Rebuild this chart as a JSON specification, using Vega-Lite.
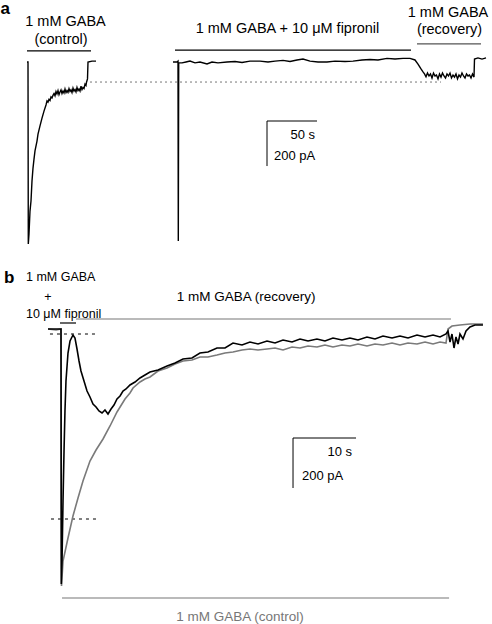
{
  "$schema": "https://vega.github.io/schema/vega-lite/v6.json",
  "padding": 0,
  "spacing": 0,
  "config": {"view": {"stroke": null}, "text": {"font": "Liberation Sans"}},
  "resolve": {"scale": {"x": "independent", "y": "independent"}},
  "datasets": {
    "controlA": [
      {"t": -1, "pA": 0}, {"t": 0, "pA": 0}, {"t": 0.3, "pA": -808}, {"t": 1, "pA": -764}, {"t": 2, "pA": -662},
      {"t": 3, "pA": -617}, {"t": 4, "pA": -528}, {"t": 5, "pA": -471}, {"t": 6, "pA": -431}, {"t": 7, "pA": -395},
      {"t": 9, "pA": -351}, {"t": 10, "pA": -320}, {"t": 12, "pA": -284}, {"t": 14, "pA": -249}, {"t": 16, "pA": -218},
      {"t": 18, "pA": -191}, {"t": 19, "pA": -173}, {"t": 20, "pA": -178}, {"t": 21, "pA": -166}, {"t": 22, "pA": -171},
      {"t": 23, "pA": -155}, {"t": 24, "pA": -160}, {"t": 25, "pA": -148}, {"t": 26, "pA": -140}, {"t": 27, "pA": -150},
      {"t": 28, "pA": -131}, {"t": 29, "pA": -142}, {"t": 30, "pA": -127}, {"t": 31, "pA": -145}, {"t": 32, "pA": -133},
      {"t": 33, "pA": -124}, {"t": 34, "pA": -140}, {"t": 35, "pA": -129}, {"t": 36, "pA": -138}, {"t": 37, "pA": -120},
      {"t": 38, "pA": -136}, {"t": 39, "pA": -127}, {"t": 40, "pA": -135}, {"t": 41, "pA": -118}, {"t": 42, "pA": -131},
      {"t": 43, "pA": -124}, {"t": 44, "pA": -136}, {"t": 45, "pA": -116}, {"t": 46, "pA": -129}, {"t": 47, "pA": -122},
      {"t": 48, "pA": -133}, {"t": 49, "pA": -113}, {"t": 50, "pA": -127}, {"t": 51, "pA": -120}, {"t": 52, "pA": -129},
      {"t": 53, "pA": -107}, {"t": 54, "pA": -122}, {"t": 55, "pA": -113}, {"t": 56, "pA": -118}, {"t": 57, "pA": -98},
      {"t": 58, "pA": -104}, {"t": 58.5, "pA": -90}, {"t": 59.5, "pA": -75}, {"t": 60, "pA": 0}, {"t": 64, "pA": 4}, {"t": 68, "pA": 4}
    ],
    "fipronilA": [
      {"t": 145, "pA": 0}, {"t": 149, "pA": 0}, {"t": 150, "pA": 4}, {"t": 150.3, "pA": -795}, {"t": 150.7, "pA": -4},
      {"t": 154, "pA": -4}, {"t": 158, "pA": 0}, {"t": 162, "pA": 4}, {"t": 167, "pA": -4}, {"t": 172, "pA": 0},
      {"t": 179, "pA": -9}, {"t": 184, "pA": 0}, {"t": 190, "pA": -4}, {"t": 199, "pA": 0}, {"t": 207, "pA": 2},
      {"t": 214, "pA": -2}, {"t": 222, "pA": 4}, {"t": 232, "pA": 4}, {"t": 240, "pA": 0}, {"t": 247, "pA": 4},
      {"t": 255, "pA": 7}, {"t": 262, "pA": 2}, {"t": 269, "pA": 9}, {"t": 275, "pA": 13}, {"t": 282, "pA": 4},
      {"t": 290, "pA": 0}, {"t": 299, "pA": 0}, {"t": 307, "pA": 4}, {"t": 317, "pA": 2}, {"t": 325, "pA": 4},
      {"t": 334, "pA": 9}, {"t": 342, "pA": 11}, {"t": 350, "pA": 9}, {"t": 359, "pA": 16}, {"t": 367, "pA": 13},
      {"t": 375, "pA": 16}, {"t": 382, "pA": 16}, {"t": 387, "pA": 9}, {"t": 390, "pA": -9}, {"t": 393, "pA": -31},
      {"t": 395, "pA": -44}, {"t": 396.5, "pA": -53}, {"t": 398, "pA": -66}, {"t": 399.5, "pA": -49}, {"t": 401, "pA": -62},
      {"t": 402.5, "pA": -53}, {"t": 404, "pA": -71}, {"t": 405.5, "pA": -49}, {"t": 407, "pA": -62}, {"t": 408.5, "pA": -58},
      {"t": 410, "pA": -75}, {"t": 411.5, "pA": -53}, {"t": 413, "pA": -67}, {"t": 414.5, "pA": -49}, {"t": 416, "pA": -62},
      {"t": 417.5, "pA": -71}, {"t": 419, "pA": -53}, {"t": 420.5, "pA": -62}, {"t": 422, "pA": -49}, {"t": 423.5, "pA": -71},
      {"t": 425, "pA": -58}, {"t": 426.5, "pA": -67}, {"t": 428, "pA": -53}, {"t": 429.5, "pA": -75}, {"t": 431, "pA": -58},
      {"t": 432.5, "pA": -67}, {"t": 434, "pA": -49}, {"t": 435.5, "pA": -62}, {"t": 437, "pA": -71}, {"t": 438.5, "pA": -53},
      {"t": 440, "pA": -62}, {"t": 441.5, "pA": -58}, {"t": 443, "pA": -71}, {"t": 444.5, "pA": -53}, {"t": 446, "pA": -67},
      {"t": 446.5, "pA": 13}, {"t": 450, "pA": 18}, {"t": 454, "pA": 13}, {"t": 458, "pA": 18}
    ],
    "barsA": [
      {"label": "control", "t": -1, "t2": 63, "pA": 49},
      {"label": "fipronil", "t": 147, "t2": 383, "pA": 53},
      {"label": "recovery", "t": 389, "t2": 453, "pA": 80}
    ],
    "textA": [
      {"text": "1 mM GABA", "t": 37.5, "pA": 178},
      {"text": "(control)", "t": 33, "pA": 98},
      {"text": "1 mM GABA + 10 μM fipronil", "t": 259.5, "pA": 146},
      {"text": "1 mM GABA", "t": 420, "pA": 218},
      {"text": "(recovery)", "t": 421.5, "pA": 142}
    ],
    "grayB": [
      {"t": -2.06, "pA": -4}, {"t": -0.79, "pA": -8}, {"t": 0, "pA": -4}, {"t": 0.08, "pA": -1032}, {"t": 0.32, "pA": -932},
      {"t": 1.11, "pA": -840}, {"t": 1.9, "pA": -752}, {"t": 2.7, "pA": -680}, {"t": 3.49, "pA": -612}, {"t": 4.6, "pA": -532},
      {"t": 5.56, "pA": -488}, {"t": 6.67, "pA": -444}, {"t": 7.78, "pA": -392}, {"t": 8.89, "pA": -336}, {"t": 10.16, "pA": -284},
      {"t": 10.95, "pA": -260}, {"t": 11.43, "pA": -240}, {"t": 12.54, "pA": -216}, {"t": 13.33, "pA": -204}, {"t": 14.13, "pA": -196},
      {"t": 15.4, "pA": -172}, {"t": 16.83, "pA": -160}, {"t": 18.1, "pA": -144}, {"t": 19.37, "pA": -132}, {"t": 20.79, "pA": -128},
      {"t": 22.06, "pA": -116}, {"t": 23.33, "pA": -116}, {"t": 24.76, "pA": -108}, {"t": 26.03, "pA": -100}, {"t": 27.3, "pA": -96},
      {"t": 28.73, "pA": -88}, {"t": 30.0, "pA": -84}, {"t": 31.27, "pA": -88}, {"t": 32.7, "pA": -84}, {"t": 33.97, "pA": -80},
      {"t": 35.24, "pA": -88}, {"t": 36.67, "pA": -76}, {"t": 37.94, "pA": -80}, {"t": 39.21, "pA": -72}, {"t": 40.63, "pA": -76},
      {"t": 41.9, "pA": -68}, {"t": 43.17, "pA": -76}, {"t": 44.6, "pA": -68}, {"t": 45.87, "pA": -72}, {"t": 47.14, "pA": -64},
      {"t": 48.57, "pA": -72}, {"t": 49.84, "pA": -64}, {"t": 51.11, "pA": -68}, {"t": 52.54, "pA": -60}, {"t": 53.81, "pA": -68},
      {"t": 55.08, "pA": -60}, {"t": 56.51, "pA": -64}, {"t": 57.78, "pA": -56}, {"t": 59.05, "pA": -64}, {"t": 60.16, "pA": -56},
      {"t": 61.11, "pA": -60}, {"t": 61.43, "pA": -4}, {"t": 62.06, "pA": 8}, {"t": 63.33, "pA": 12}, {"t": 64.92, "pA": 16}, {"t": 66.98, "pA": 16}
    ],
    "blackB": [
      {"t": -2.06, "pA": -4}, {"t": 0, "pA": -4}, {"t": 0.05, "pA": -1024}, {"t": 0.16, "pA": -932}, {"t": 0.32, "pA": -692},
      {"t": 0.48, "pA": -492}, {"t": 0.63, "pA": -332}, {"t": 0.79, "pA": -212}, {"t": 1.11, "pA": -100}, {"t": 1.43, "pA": -52},
      {"t": 1.9, "pA": -28}, {"t": 2.22, "pA": -40}, {"t": 2.54, "pA": -84}, {"t": 2.86, "pA": -132}, {"t": 3.17, "pA": -172},
      {"t": 3.65, "pA": -212}, {"t": 4.13, "pA": -252}, {"t": 4.6, "pA": -276}, {"t": 5.08, "pA": -304}, {"t": 5.56, "pA": -316},
      {"t": 6.03, "pA": -332}, {"t": 6.51, "pA": -340}, {"t": 6.98, "pA": -328}, {"t": 7.46, "pA": -344}, {"t": 7.94, "pA": -324},
      {"t": 8.41, "pA": -308}, {"t": 8.89, "pA": -284}, {"t": 9.37, "pA": -272}, {"t": 9.84, "pA": -252}, {"t": 10.32, "pA": -244},
      {"t": 10.95, "pA": -228}, {"t": 11.75, "pA": -216}, {"t": 12.54, "pA": -200}, {"t": 13.33, "pA": -188}, {"t": 14.13, "pA": -176},
      {"t": 15.4, "pA": -168}, {"t": 16.83, "pA": -152}, {"t": 18.1, "pA": -140}, {"t": 19.37, "pA": -124}, {"t": 20.79, "pA": -120},
      {"t": 22.06, "pA": -100}, {"t": 23.33, "pA": -96}, {"t": 24.76, "pA": -80}, {"t": 26.03, "pA": -80}, {"t": 27.3, "pA": -60},
      {"t": 28.73, "pA": -68}, {"t": 30.0, "pA": -56}, {"t": 31.27, "pA": -64}, {"t": 32.7, "pA": -52}, {"t": 33.97, "pA": -60},
      {"t": 35.24, "pA": -48}, {"t": 36.67, "pA": -56}, {"t": 37.94, "pA": -44}, {"t": 39.21, "pA": -52}, {"t": 40.63, "pA": -44},
      {"t": 41.9, "pA": -52}, {"t": 43.17, "pA": -40}, {"t": 44.6, "pA": -48}, {"t": 45.87, "pA": -40}, {"t": 47.14, "pA": -48},
      {"t": 48.57, "pA": -36}, {"t": 49.84, "pA": -44}, {"t": 51.11, "pA": -32}, {"t": 52.54, "pA": -40}, {"t": 53.81, "pA": -32},
      {"t": 55.08, "pA": -40}, {"t": 56.51, "pA": -28}, {"t": 57.78, "pA": -36}, {"t": 59.05, "pA": -28}, {"t": 60.16, "pA": -36},
      {"t": 61.11, "pA": -24}, {"t": 61.43, "pA": -12}, {"t": 61.75, "pA": -56}, {"t": 62.06, "pA": -24}, {"t": 62.38, "pA": -80},
      {"t": 62.7, "pA": -36}, {"t": 63.02, "pA": -64}, {"t": 63.33, "pA": -24}, {"t": 63.81, "pA": -44}, {"t": 64.29, "pA": -12},
      {"t": 64.92, "pA": 4}, {"t": 65.71, "pA": 12}, {"t": 66.98, "pA": 12}
    ],
    "barsB": [
      {"label": "fipronil", "t": -0.16, "t2": 2.38, "pA": 20},
      {"label": "recovery", "t": 2.38, "t2": 61.9, "pA": 36},
      {"label": "control", "t": 0.16, "t2": 61.6, "pA": -1080}
    ],
    "dashB": [
      {"level": "fipronil peak", "t": -1.75, "t2": 5.56, "pA": -24},
      {"level": "control peak", "t": -1.59, "t2": 5.71, "pA": -764}
    ],
    "textBLeft": [
      {"text": "1 mM GABA", "t": -5.56, "pA": 204},
      {"text": "10 μM fipronil", "t": -5.56, "pA": 56}
    ]
  },
  "vconcat": [
    {
      "width": 492,
      "height": 250,
      "layer": [
        {
          "data": {"values": [{"t": 62, "t2": 413, "pA": -89}]},
          "mark": {"type": "rule", "color": "#777777", "strokeDash": [2, 3], "strokeWidth": 1},
          "encoding": {
            "x": {"field": "t", "type": "quantitative", "axis": null, "scale": {"domain": [-28, 464], "nice": false, "zero": false}},
            "x2": {"field": "t2"},
            "y": {"field": "pA", "type": "quantitative", "axis": null, "scale": {"domain": [-839.2, 270.8], "nice": false, "zero": false}}
          }
        },
        {
          "data": {"name": "controlA"},
          "mark": {"type": "line", "color": "#000000", "strokeWidth": 1.4},
          "encoding": {
            "x": {"field": "t", "type": "quantitative", "axis": null},
            "y": {"field": "pA", "type": "quantitative", "axis": null}
          }
        },
        {
          "data": {"name": "fipronilA"},
          "mark": {"type": "line", "color": "#000000", "strokeWidth": 1.4},
          "encoding": {
            "x": {"field": "t", "type": "quantitative", "axis": null},
            "y": {"field": "pA", "type": "quantitative", "axis": null}
          }
        },
        {
          "data": {"name": "barsA"},
          "mark": {"type": "rule", "strokeWidth": 1.2},
          "encoding": {
            "x": {"field": "t", "type": "quantitative", "axis": null},
            "x2": {"field": "t2"},
            "y": {"field": "pA", "type": "quantitative", "axis": null},
            "color": {"condition": {"test": "datum.label === 'recovery'", "value": "#555555"}, "value": "#000000"}
          }
        },
        {
          "data": {"values": [{"t": 239, "t2": 289, "pA": -262}]},
          "mark": {"type": "rule", "color": "#000000", "strokeWidth": 1},
          "encoding": {
            "x": {"field": "t", "type": "quantitative", "axis": null},
            "x2": {"field": "t2"},
            "y": {"field": "pA", "type": "quantitative", "axis": null}
          }
        },
        {
          "data": {"values": [{"t": 239, "pA": -262, "pA2": -462}]},
          "mark": {"type": "rule", "color": "#000000", "strokeWidth": 1},
          "encoding": {
            "x": {"field": "t", "type": "quantitative", "axis": null},
            "y": {"field": "pA", "type": "quantitative", "axis": null},
            "y2": {"field": "pA2"}
          }
        },
        {
          "data": {"name": "textA"},
          "mark": {"type": "text", "fontSize": 14.5, "align": "center", "baseline": "middle", "color": "#000000"},
          "encoding": {
            "x": {"field": "t", "type": "quantitative", "axis": null},
            "y": {"field": "pA", "type": "quantitative", "axis": null},
            "text": {"field": "text"}
          }
        },
        {
          "data": {"values": [{"text": "50 s", "t": 287, "pA": -324}]},
          "mark": {"type": "text", "fontSize": 13, "align": "right", "baseline": "middle", "color": "#000000"},
          "encoding": {
            "x": {"field": "t", "type": "quantitative", "axis": null},
            "y": {"field": "pA", "type": "quantitative", "axis": null},
            "text": {"field": "text"}
          }
        },
        {
          "data": {"values": [{"text": "200 pA", "t": 246, "pA": -417}]},
          "mark": {"type": "text", "fontSize": 13, "align": "left", "baseline": "middle", "color": "#000000"},
          "encoding": {
            "x": {"field": "t", "type": "quantitative", "axis": null},
            "y": {"field": "pA", "type": "quantitative", "axis": null},
            "text": {"field": "text"}
          }
        },
        {
          "data": {"values": [{"text": "a", "t": -27.5, "pA": 235}]},
          "mark": {"type": "text", "fontSize": 17, "fontWeight": "bold", "align": "left", "baseline": "middle", "color": "#000000"},
          "encoding": {
            "x": {"field": "t", "type": "quantitative", "axis": null},
            "y": {"field": "pA", "type": "quantitative", "axis": null},
            "text": {"field": "text"}
          }
        }
      ]
    },
    {
      "width": 492,
      "height": 374,
      "layer": [
        {
          "data": {"name": "dashB"},
          "mark": {"type": "rule", "color": "#000000", "strokeDash": [3, 4], "strokeWidth": 1},
          "encoding": {
            "x": {"field": "t", "type": "quantitative", "axis": null, "scale": {"domain": [-9.683, 68.413], "nice": false, "zero": false}},
            "x2": {"field": "t2"},
            "y": {"field": "pA", "type": "quantitative", "axis": null, "scale": {"domain": [-1188, 308], "nice": false, "zero": false}}
          }
        },
        {
          "data": {"name": "grayB"},
          "mark": {"type": "line", "color": "#7a7a7a", "strokeWidth": 1.6},
          "encoding": {
            "x": {"field": "t", "type": "quantitative", "axis": null},
            "y": {"field": "pA", "type": "quantitative", "axis": null}
          }
        },
        {
          "data": {"name": "blackB"},
          "mark": {"type": "line", "color": "#000000", "strokeWidth": 1.6},
          "encoding": {
            "x": {"field": "t", "type": "quantitative", "axis": null},
            "y": {"field": "pA", "type": "quantitative", "axis": null}
          }
        },
        {
          "data": {"name": "barsB"},
          "mark": {"type": "rule", "strokeWidth": 1.2},
          "encoding": {
            "x": {"field": "t", "type": "quantitative", "axis": null},
            "x2": {"field": "t2"},
            "y": {"field": "pA", "type": "quantitative", "axis": null},
            "color": {"condition": {"test": "datum.label === 'fipronil'", "value": "#000000"}, "value": "#777777"}
          }
        },
        {
          "data": {"values": [{"t": 36.83, "t2": 46.83, "pA": -440}]},
          "mark": {"type": "rule", "color": "#000000", "strokeWidth": 1},
          "encoding": {
            "x": {"field": "t", "type": "quantitative", "axis": null},
            "x2": {"field": "t2"},
            "y": {"field": "pA", "type": "quantitative", "axis": null}
          }
        },
        {
          "data": {"values": [{"t": 36.83, "pA": -440, "pA2": -640}]},
          "mark": {"type": "rule", "color": "#000000", "strokeWidth": 1},
          "encoding": {
            "x": {"field": "t", "type": "quantitative", "axis": null},
            "y": {"field": "pA", "type": "quantitative", "axis": null},
            "y2": {"field": "pA2"}
          }
        },
        {
          "data": {"name": "textBLeft"},
          "mark": {"type": "text", "fontSize": 12.5, "align": "left", "baseline": "middle", "color": "#000000"},
          "encoding": {
            "x": {"field": "t", "type": "quantitative", "axis": null},
            "y": {"field": "pA", "type": "quantitative", "axis": null},
            "text": {"field": "text"}
          }
        },
        {
          "data": {"values": [{"text": "+", "t": -2.06, "pA": 124}]},
          "mark": {"type": "text", "fontSize": 12.5, "align": "center", "baseline": "middle", "color": "#000000"},
          "encoding": {
            "x": {"field": "t", "type": "quantitative", "axis": null},
            "y": {"field": "pA", "type": "quantitative", "axis": null},
            "text": {"field": "text"}
          }
        },
        {
          "data": {"values": [{"text": "1 mM GABA (recovery)", "t": 29.37, "pA": 124}]},
          "mark": {"type": "text", "fontSize": 13.5, "align": "center", "baseline": "middle", "color": "#000000"},
          "encoding": {
            "x": {"field": "t", "type": "quantitative", "axis": null},
            "y": {"field": "pA", "type": "quantitative", "axis": null},
            "text": {"field": "text"}
          }
        },
        {
          "data": {"values": [{"text": "1 mM GABA (control)", "t": 28.41, "pA": -1156}]},
          "mark": {"type": "text", "fontSize": 13.5, "align": "center", "baseline": "middle", "color": "#777777"},
          "encoding": {
            "x": {"field": "t", "type": "quantitative", "axis": null},
            "y": {"field": "pA", "type": "quantitative", "axis": null},
            "text": {"field": "text"}
          }
        },
        {
          "data": {"values": [{"text": "10 s", "t": 46.19, "pA": -496}]},
          "mark": {"type": "text", "fontSize": 13, "align": "right", "baseline": "middle", "color": "#000000"},
          "encoding": {
            "x": {"field": "t", "type": "quantitative", "axis": null},
            "y": {"field": "pA", "type": "quantitative", "axis": null},
            "text": {"field": "text"}
          }
        },
        {
          "data": {"values": [{"text": "200 pA", "t": 38.25, "pA": -592}]},
          "mark": {"type": "text", "fontSize": 13, "align": "left", "baseline": "middle", "color": "#000000"},
          "encoding": {
            "x": {"field": "t", "type": "quantitative", "axis": null},
            "y": {"field": "pA", "type": "quantitative", "axis": null},
            "text": {"field": "text"}
          }
        },
        {
          "data": {"values": [{"text": "b", "t": -9.05, "pA": 200}]},
          "mark": {"type": "text", "fontSize": 17, "fontWeight": "bold", "align": "left", "baseline": "middle", "color": "#000000"},
          "encoding": {
            "x": {"field": "t", "type": "quantitative", "axis": null},
            "y": {"field": "pA", "type": "quantitative", "axis": null},
            "text": {"field": "text"}
          }
        }
      ]
    }
  ]
}
